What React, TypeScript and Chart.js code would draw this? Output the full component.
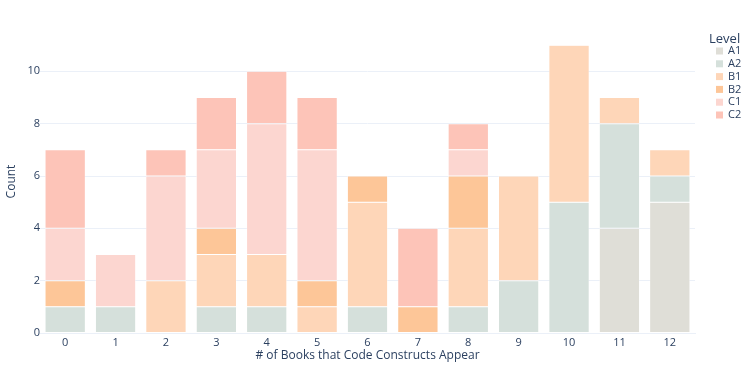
import React, { useEffect, useRef } from "react";
import { Chart, registerables } from "chart.js";

Chart.register(...registerables);

const categories = ["0", "1", "2", "3", "4", "5", "6", "7", "8", "9", "10", "11", "12"];
const levels = ["A1", "A2", "B1", "B2", "C1", "C2"];
const a1 = [0, 0, 0, 0, 0, 0, 0, 0, 0, 0, 0, 4, 5];
const a2 = [1, 1, 0, 1, 1, 0, 1, 0, 1, 2, 5, 4, 1];
const b1 = [0, 0, 2, 2, 2, 1, 4, 0, 3, 4, 6, 1, 1];
const b2 = [1, 0, 0, 1, 0, 1, 1, 1, 2, 0, 0, 0, 0];
const c1 = [2, 2, 4, 3, 5, 5, 0, 0, 1, 0, 0, 0, 0];
const c2 = [3, 0, 1, 2, 2, 2, 0, 3, 1, 0, 0, 0, 0];
const colors = ["#dfded7", "#d5e0db", "#fed6b8", "#fdc698", "#fcd6d0", "#fdc4b8"];

const FONT = '"Open Sans", verdana, arial, sans-serif';
const TEXT = "#2a3f5f";

const legendPlugin = {
  id: "sideLegend",
  afterDraw(chart: any) {
    const ctx = chart.ctx;
    ctx.save();
    ctx.fillStyle = TEXT;
    ctx.textBaseline = "middle";
    ctx.textAlign = "left";
    ctx.font = `13px ${FONT}`;
    ctx.fillText("Level", 709, 39);
    ctx.font = `11px ${FONT}`;
    chart.data.datasets.forEach((ds: any, i: number) => {
      const y = 51 + i * 12.8;
      ctx.fillStyle = ds.backgroundColor;
      ctx.fillRect(716, y - 3.5, 7, 7);
      ctx.fillStyle = TEXT;
      ctx.fillText(ds.label, 728, y);
    });
    ctx.restore();
  },
};

export default function App() {
  const ref = useRef<HTMLCanvasElement>(null);
  useEffect(() => {
    document.body.style.margin = "0";
    const series = [a1, a2, b1, b2, c1, c2];
    const chart = new Chart(ref.current!, {
      type: "bar",
      data: {
        labels: categories,
        datasets: levels.map((lv, i) => ({
          label: lv,
          data: series[i].map((v) => (v === 0 ? null : v)),
          backgroundColor: colors[i],
          borderColor: "#ffffff",
          borderWidth: 0.5,
          borderSkipped: false,
          barPercentage: 0.8,
          categoryPercentage: 1,
        })),
      },
      options: {
        animation: false,
        responsive: true,
        maintainAspectRatio: false,
        layout: { padding: { top: 30, right: 53, bottom: 7, left: 0 } },
        plugins: { legend: { display: false }, tooltip: { enabled: false } },
        scales: {
          x: {
            stacked: true,
            grid: { display: false, drawTicks: false },
            border: { display: true, color: "#ebf0f8", width: 1 },
            ticks: { color: TEXT, font: { family: FONT, size: 11 }, padding: 3 },
            title: {
              display: true,
              text: "# of Books that Code Constructs Appear",
              color: TEXT,
              font: { family: FONT, size: 12 },
              padding: 4,
            },
            afterFit: (s: any) => {
              s.height = 34;
            },
          },
          y: {
            stacked: true,
            min: 0,
            max: 11.58,
            grid: { color: "#ebf0f8", drawTicks: false },
            border: { display: false },
            ticks: {
              stepSize: 2,
              includeBounds: false,
              color: TEXT,
              font: { family: FONT, size: 11 },
              padding: 0,
            },
            title: {
              display: true,
              text: "Count",
              color: TEXT,
              font: { family: FONT, size: 12 },
              padding: 4,
            },
            afterFit: (s: any) => {
              s.width = 40;
            },
          },
        },
      },
      plugins: [legendPlugin],
    });
    return () => chart.destroy();
  }, []);
  return (
    <div style={{ position: "absolute", left: 0, top: 0, width: 748, height: 374 }}>
      <canvas ref={ref} />
    </div>
  );
}
